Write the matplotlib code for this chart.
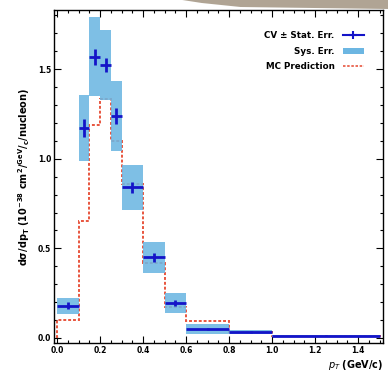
import numpy as np
import matplotlib
matplotlib.use("Agg")
import matplotlib.pyplot as plt
from matplotlib.lines import Line2D
from matplotlib.patches import Patch, Polygon

edges = [0.0, 0.1, 0.15, 0.2, 0.25, 0.3, 0.4, 0.5, 0.6, 0.8, 1.0, 1.5]
cv = [0.18, 1.17, 1.57, 1.525, 1.24, 0.84, 0.45, 0.195, 0.05, 0.033, 0.012]
stat = [0.02, 0.05, 0.045, 0.04, 0.045, 0.03, 0.025, 0.015, 0.006, 0.004, 0.002]
sys_err = [0.045, 0.185, 0.22, 0.195, 0.195, 0.125, 0.085, 0.055, 0.028, 0.012, 0.005]
mc = [0.10, 0.65, 1.19, 1.335, 1.10, 0.86, 0.42, 0.17, 0.095, 0.035, 0.01]

edges_a = np.array(edges)
cv_a = np.array(cv)
stat_a = np.array(stat)
sys_a = np.array(sys_err)
mc_a = np.array(mc)
centers = 0.5 * (edges_a[1:] + edges_a[:-1])
widths = np.diff(edges_a)

fig = plt.figure(figsize=(3.88, 3.74), dpi=100)
ax = fig.add_axes([0.139, 0.083, 0.848, 0.890])

blue_box = "#6cb6e2"
dark_blue = "#1414c8"
red = "#e8553e"

ax.stairs(mc_a, edges_a, baseline=0, color=red, linestyle=(0, (1.5, 1.0)),
          linewidth=1.4, zorder=2)
ax.bar(edges_a[:-1], 2 * sys_a, bottom=cv_a - sys_a, width=widths, align="edge",
       color=blue_box, alpha=0.88, linewidth=0, zorder=3)
ax.errorbar(centers, cv_a, xerr=widths / 2, yerr=stat_a, fmt="none",
            ecolor=dark_blue, elinewidth=2.0, capsize=0, zorder=4)

ax.set_xlim(-0.015, 1.515)
ax.set_ylim(-0.028, 1.83)
ax.set_xticks([0.0, 0.2, 0.4, 0.6, 0.8, 1.0, 1.2, 1.4])
ax.set_xticks(np.arange(0, 1.51, 0.05), minor=True)
ax.set_yticks([0.0, 0.5, 1.0, 1.5])
ax.set_yticks(np.arange(0, 1.81, 0.1), minor=True)
ax.tick_params(which="both", direction="in", top=True, right=True, labelsize=5.5,
               width=0.8, pad=2)
ax.tick_params(which="major", length=5)
ax.tick_params(which="minor", length=2.5)
for lab in ax.get_xticklabels() + ax.get_yticklabels():
    lab.set_fontweight("bold")
for s in ax.spines.values():
    s.set_linewidth(1.0)

ax.set_xlabel(r"$\mathbf{\it{p_T}}$ $\mathbf{(GeV/c)}$", fontsize=7, loc="right", labelpad=2)
ax.set_ylabel(r"$\mathbf{d\sigma/dp_T\ (10^{-38}\ cm^2/^{GeV}/_{c}/nucleon)}$", fontsize=7, labelpad=4)

handles = [
    Line2D([0], [0], color=dark_blue, lw=1.5, marker="+", markersize=6, markeredgewidth=1.5),
    Patch(facecolor=blue_box, edgecolor="none"),
    Line2D([0], [0], color=red, lw=1.2, linestyle=(0, (1.5, 1.0))),
]
labels = ["CV ± Stat. Err.", "Sys. Err.", "MC Prediction"]
leg = ax.legend(handles, labels, loc="upper right", frameon=False, markerfirst=False,
                prop={"size": 6.3, "weight": "bold"}, handlelength=2.4,
                bbox_to_anchor=(0.965, 0.96), labelspacing=0.75, handletextpad=0.9)

# top-edge photo artefact band
band = Polygon([(0.47, 1.0), (1.0, 1.0), (1.0, 1 - 9 / 374), (0.62, 1 - 7 / 374),
                (0.52, 1 - 3 / 374)], closed=True, transform=fig.transFigure,
               facecolor="#9c8e7a", edgecolor="none", alpha=0.8, zorder=0)
fig.patches.append(band)

fig.savefig("out.png", dpi=100)
